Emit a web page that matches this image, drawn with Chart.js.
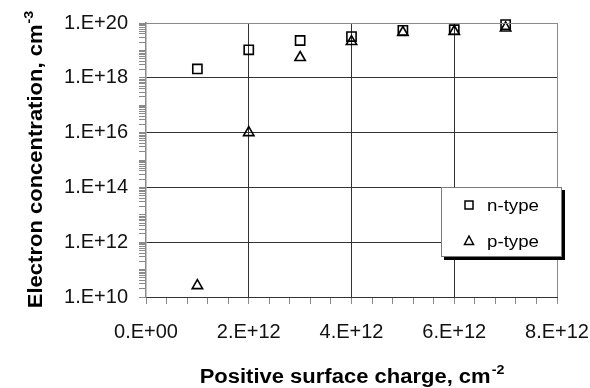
<!DOCTYPE html>
<html>
<head>
<meta charset="utf-8">
<script src="https://cdn.jsdelivr.net/npm/chart.js@4/dist/chart.umd.min.js"></script>
<style>
  html, body { margin: 0; padding: 0; background: #fff; }
  #wrap { width: 590px; height: 388px; }
</style>
</head>
<body>
<div id="wrap"><canvas id="chart"></canvas></div>
<script>
// surface charge, cm-2
const charges = [1e12, 2e12, 3e12, 4e12, 5e12, 6e12, 7e12];
const nType = [2.1e18, 1.05e19, 2.3e19, 3.2e19, 5.4e19, 5.7e19, 8.7e19];
const pType = [2.6e10, 1.0e16, 5.5e18, 2.1e19, 4.5e19, 4.9e19, 6.6e19];

const xMajor = [0, 2e12, 4e12, 6e12, 8e12];
const xTickLabels = ['0.E+00', '2.E+12', '4.E+12', '6.E+12', '8.E+12'];
const yMajor = [1e10, 1e12, 1e14, 1e16, 1e18, 1e20];
const yTickLabels = ['1.E+10', '1.E+12', '1.E+14', '1.E+16', '1.E+18', '1.E+20'];

const FONT = "'Liberation Sans', Arial, sans-serif";

const near = function (v, list) {
    for (let i = 0; i < list.length; i++) {
        if (Math.abs(v - list[i]) <= list[i] * 1e-6 + 1) return i;
    }
    return -1;
};

const toPoints = function (xs, ys) {
    return xs.map((x, i) => ({x: x, y: ys[i]}));
};

// frame, axis titles with superscripts, legend box with shadow
const decor = {
    id: 'decor',
    afterDraw(chart) {
        const ctx = chart.ctx;
        const a = chart.chartArea;
        ctx.save();

        ctx.strokeStyle = '#8a8a8a';
        ctx.lineWidth = 1;
        ctx.beginPath();
        ctx.moveTo(a.left, a.top + 0.5);
        ctx.lineTo(a.right + 0.5, a.top + 0.5);
        ctx.lineTo(a.right + 0.5, a.bottom);
        ctx.stroke();

        const title = function (main, sup, cx, cy, rot) {
            ctx.save();
            ctx.translate(cx, cy);
            ctx.rotate(rot);
            ctx.scale(1.1, 1);
            ctx.fillStyle = '#000';
            ctx.textBaseline = 'alphabetic';
            ctx.font = 'bold 20px ' + FONT;
            const w1 = ctx.measureText(main).width;
            ctx.font = 'bold 13px ' + FONT;
            const w2 = ctx.measureText(sup).width;
            const x0 = -(w1 + w2) / 2;
            ctx.font = 'bold 20px ' + FONT;
            ctx.textAlign = 'left';
            ctx.fillText(main, x0, 0);
            ctx.font = 'bold 13px ' + FONT;
            ctx.fillText(sup, x0 + w1 + 1, -9);
            ctx.restore();
        };
        title('Positive surface charge, cm', '-2', (a.left + a.right) / 2, 383, 0);
        title('Electron concentration, cm', '-3', 42, (a.top + a.bottom) / 2, -Math.PI / 2);

        // legend
        const lx = a.right - 116, ly = a.top + 164, lw = 121, lh = 70;
        ctx.fillStyle = '#000';
        ctx.fillRect(lx + 3, ly + 3, lw, lh);
        ctx.fillStyle = '#fff';
        ctx.fillRect(lx, ly, lw, lh);
        ctx.strokeStyle = '#7a7a7a';
        ctx.lineWidth = 1;
        ctx.strokeRect(lx + 0.5, ly + 0.5, lw - 1, lh - 1);

        chart.data.datasets.forEach((ds, i) => {
            const mx = lx + 28, my = ly + 18 + i * 36;
            ctx.strokeStyle = '#000';
            ctx.lineWidth = 1.5;
            ctx.beginPath();
            if (ds.pointStyle === 'rect') {
                ctx.rect(mx - 4, my - 4, 8, 8);
            } else {
                ctx.moveTo(mx, my - 5);
                ctx.lineTo(mx + 4.5, my + 3.5);
                ctx.lineTo(mx - 4.5, my + 3.5);
                ctx.closePath();
            }
            ctx.stroke();
            ctx.save();
            ctx.translate(lx + 46, my + 6);
            ctx.scale(1.1, 1);
            ctx.fillStyle = '#000';
            ctx.font = '17px ' + FONT;
            ctx.textAlign = 'left';
            ctx.fillText(ds.label, 0, 0);
            ctx.restore();
        });
        ctx.restore();
    }
};

new Chart(document.getElementById('chart').getContext('2d'), {
    type: 'scatter',
    data: {
        datasets: [
            {
                label: 'n-type',
                data: toPoints(charges, nType),
                pointStyle: 'rect',
                pointRadius: 6.5,
                pointHoverRadius: 6.5,
                borderColor: '#000',
                backgroundColor: 'rgba(0,0,0,0)',
                borderWidth: 1.6,
                clip: false
            },
            {
                label: 'p-type',
                data: toPoints(charges, pType),
                pointStyle: 'triangle',
                pointRadius: 6,
                pointHoverRadius: 6,
                borderColor: '#000',
                backgroundColor: 'rgba(0,0,0,0)',
                borderWidth: 1.6,
                clip: false
            }
        ]
    },
    options: {
        responsive: true,
        maintainAspectRatio: false,
        animation: false,
        events: [],
        layout: {padding: {top: 23, right: 33, left: 0, bottom: 0}},
        plugins: {legend: {display: false}, tooltip: {enabled: false}},
        scales: {
            x: {
                type: 'linear',
                min: 0,
                max: 8e12,
                afterBuildTicks: function (scale) {
                    const t = [];
                    for (let i = 0; i <= 20; i++) t.push({value: i * 0.4e12});
                    scale.ticks = t;
                },
                afterFit: function (scale) {
                    scale.height = 91;
                    scale.paddingLeft = 0;
                    scale.paddingRight = 0;
                },
                border: {color: '#333', width: 1},
                grid: {
                    color: (c) => {
                        const k = near(c.tick.value, xMajor);
                        if (k < 0 || k === 0) return 'rgba(0,0,0,0)';
                        return k === xMajor.length - 1 ? '#8a8a8a' : '#333';
                    },
                    tickColor: '#8a8a8a',
                    tickLength: 7,
                    drawTicks: true
                },
                ticks: {
                    autoSkip: false,
                    maxRotation: 0,
                    padding: 16,
                    color: '#111',
                    font: {family: FONT, size: 20},
                    callback: function (v) {
                        const k = near(v, xMajor);
                        return k < 0 ? '' : xTickLabels[k];
                    }
                }
            },
            y: {
                type: 'logarithmic',
                min: 1e10,
                max: 1e20,
                afterBuildTicks: function (scale) {
                    const t = [];
                    for (let e = 10; e < 20; e++) {
                        for (let m = 1; m < 10; m++) t.push({value: m * Math.pow(10, e)});
                    }
                    t.push({value: 1e20});
                    scale.ticks = t;
                },
                afterFit: function (scale) {
                    scale.width = 146;
                    scale.paddingTop = 0;
                    scale.paddingBottom = 0;
                },
                border: {color: '#8a8a8a', width: 1.5},
                grid: {
                    color: (c) => {
                        const k = near(c.tick.value, yMajor);
                        if (k <= 0) return 'rgba(0,0,0,0)';
                        return k === yMajor.length - 1 ? '#8a8a8a' : '#333';
                    },
                    tickColor: '#8a8a8a',
                    tickLength: 7
                },
                ticks: {
                    autoSkip: false,
                    padding: 11,
                    color: '#111',
                    font: {family: FONT, size: 20},
                    callback: function (v) {
                        const k = near(v, yMajor);
                        return k < 0 ? '' : yTickLabels[k];
                    }
                }
            }
        }
    },
    plugins: [decor]
});
</script>
</body>
</html>
